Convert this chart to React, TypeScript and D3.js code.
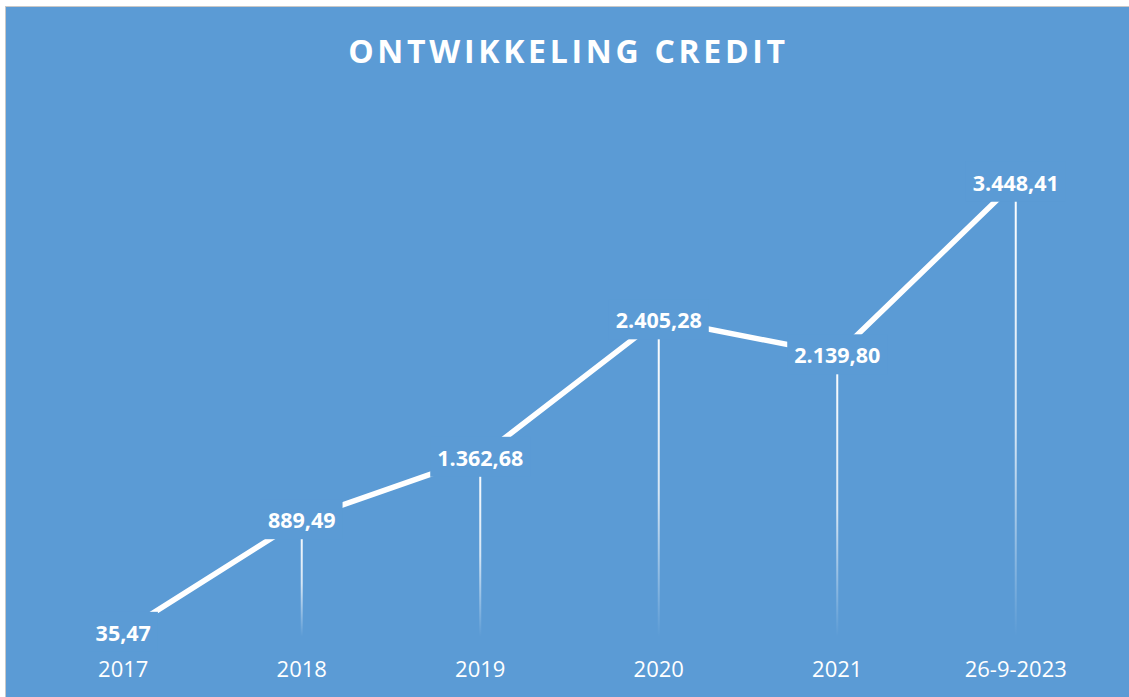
import * as d3 from "d3";
import { useEffect, useRef } from "react";

const categories = ["2017", "2018", "2019", "2020", "2021", "26-9-2023"];
const values = [35.47, 889.49, 1362.68, 2405.28, 2139.8, 3448.41];
const valueLabels = ["35,47", "889,49", "1.362,68", "2.405,28", "2.139,80", "3.448,41"];

const bg = "#5B9BD5";

export default function App() {
  const labelRef = useRef<SVGGElement>(null);

  const width = 1129,
    height = 697;

  const xScale = d3
    .scaleBand()
    .domain(categories)
    .range([34, 1105]);

  const yScale = d3.scaleLinear().domain([0, 4000]).range([636.5, 109]);

  const cx = (c: string) => (xScale(c) as number) + xScale.bandwidth() / 2;

  const line = d3
    .line<number>()
    .x((d, i) => cx(categories[i]))
    .y((d) => yScale(d));

  useEffect(() => {
    // size the label backgrounds to the text
    const g = d3.select(labelRef.current);
    g.selectAll<SVGGElement, unknown>("g.lbl").each(function () {
      const t = d3.select(this).select<SVGTextElement>("text").node();
      if (!t) return;
      const w = t.getComputedTextLength();
      d3.select(this)
        .select("rect")
        .attr("x", -w / 2 - 7)
        .attr("width", w + 14);
    });
  }, []);

  return (
    <svg
      width={width}
      height={height}
      style={{ position: "absolute", left: 0, top: 0, display: "block" }}
    >
      <defs>
        <linearGradient id="drop" x1="0" y1="0" x2="0" y2="1">
          <stop offset="0%" stopColor="#fff" stopOpacity={1} />
          <stop offset="55%" stopColor="#fff" stopOpacity={0.75} />
          <stop offset="100%" stopColor="#fff" stopOpacity={0} />
        </linearGradient>
      </defs>
      <rect x={0} y={0} width={width} height={height} fill="#fff" />
      <rect x={5} y={6} width={width} height={height} fill="#c8c8c8" />
      <rect x={6} y={7} width={width} height={height} fill={bg} />

      <text
        x={568.5}
        y={63}
        textAnchor="middle"
        fill="#fff"
        fontFamily="'Open Sans', sans-serif"
        fontWeight={700}
        fontSize={32}
        letterSpacing={3.7}
      >
        ONTWIKKELING CREDIT
      </text>

      {/* drop lines */}
      <g>
        {values.map((v, i) => (
          <rect
            key={i}
            x={cx(categories[i]) - 1}
            y={yScale(v)}
            width={2}
            height={Math.max(0.1, yScale(0) - yScale(v))}
            fill="url(#drop)"
          />
        ))}
      </g>

      <path
        d={line(values) || ""}
        fill="none"
        stroke="#fff"
        strokeWidth={5.5}
        strokeLinejoin="round"
      />

      {/* data labels with filled background */}
      <g ref={labelRef}>
        {values.map((v, i) => (
          <g
            key={i}
            className="lbl"
            transform={`translate(${cx(categories[i])},${yScale(v)})`}
          >
            <rect x={-45} y={-20} width={90} height={40} fill={bg} />
            <text
              y={9}
              textAnchor="middle"
              fill="#fff"
              fontFamily="'Open Sans', sans-serif"
              fontWeight={700}
              fontSize={21.5}
            >
              {valueLabels[i]}
            </text>
          </g>
        ))}
      </g>

      {/* category axis */}
      <g>
        {categories.map((c) => (
          <text
            key={c}
            x={cx(c)}
            y={677}
            textAnchor="middle"
            fill="#fff"
            fontFamily="'Open Sans', sans-serif"
            fontSize={22}
          >
            {c}
          </text>
        ))}
      </g>
    </svg>
  );
}
